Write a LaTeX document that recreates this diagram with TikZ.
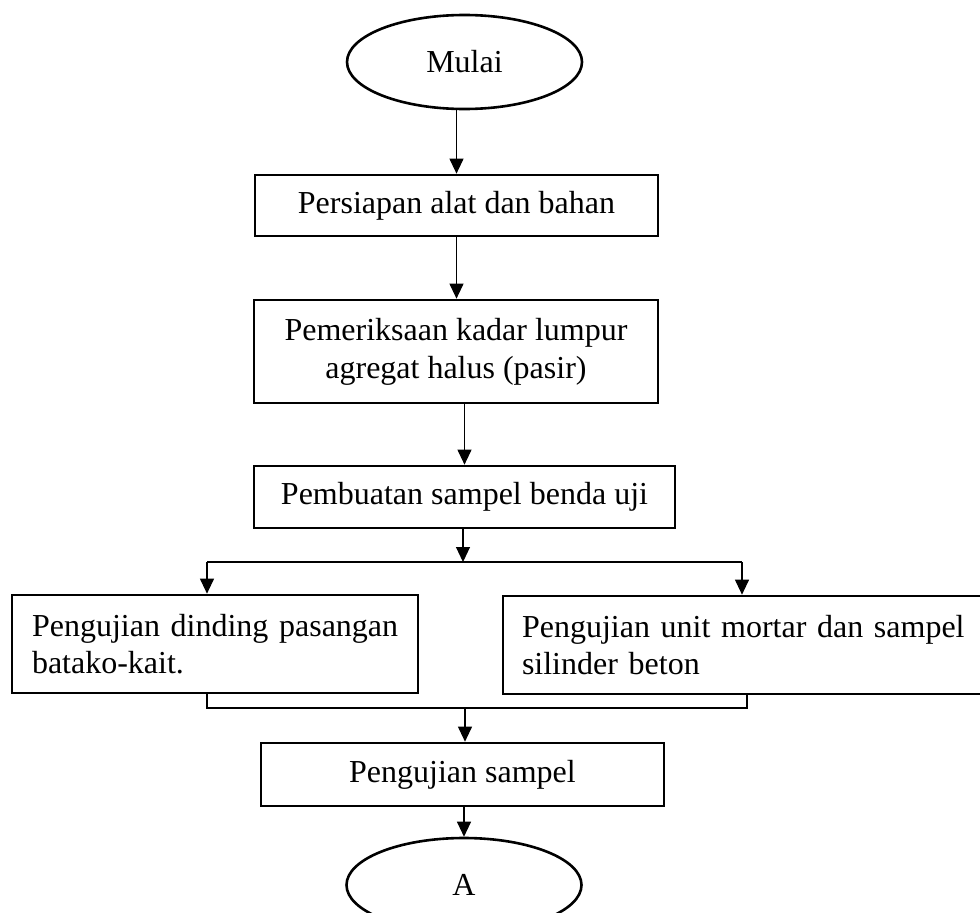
\documentclass[tikz,border=0pt]{standalone}
\usepackage{fontspec}
\setmainfont{Liberation Serif}
\usetikzlibrary{arrows.meta,shapes.geometric}
\begin{document}
\begin{tikzpicture}[x=1pt,y=-1pt,
  box/.style={draw,line width=2.7pt,inner sep=0pt,font=\fontsize{32}{38}\selectfont,align=center},
  oval/.style={draw,ellipse,line width=2.6pt,inner sep=0pt,minimum width=235pt,minimum height=94pt,font=\fontsize{32}{38}\selectfont},
  sidebox/.style={draw,line width=2.7pt,inner ysep=0pt,minimum height=98pt,align=left,font=\fontsize{32}{37}\selectfont},
  flow/.style={line width=1.1pt,-{Triangle[length=15pt,width=14pt]}},
  plain/.style={line width=1.1pt}]
\useasboundingbox (0,0) rectangle (980,913);
\node[oval] (mulai) at (464.5,62) {Mulai};
\node[box,minimum width=403pt,minimum height=61pt] (b1) at (456.5,205.5) {Persiapan alat dan bahan};
\node[box,minimum width=404pt,minimum height=103pt] (b2) at (456,351.5) {Pemeriksaan kadar lumpur\\agregat halus (pasir)};
\node[box,minimum width=421pt,minimum height=62pt] (b3) at (464.5,497) {Pembuatan sampel benda uji};
\node[sidebox,inner xsep=20pt,text width=366pt] (bl) at (215,644) {\mbox{Pengujian dinding pasangan}\\\mbox{batako-kait.}};
\node[sidebox,inner xsep=19pt,text width=445pt] (br) at (744.5,645) {\makebox[445pt][s]{Pengujian unit mortar dan sampel}\\\mbox{silinder beton}};
\node[box,minimum width=403pt,minimum height=63pt] (b4) at (462.5,774.5) {Pengujian sampel};
\node[oval] (akhir) at (464,885) {A};
% connectors
\draw[flow] (mulai.south -| b1.north) -- (b1.north);
\draw[flow] (b1.south) -- (b1.south |- b2.north);
\draw[flow] (b2.south -| b3.north) -- (b3.north);
\coordinate (sp) at (463,562);
\coordinate (spl) at (207,562);
\coordinate (spr) at (742,562);
\draw[flow] (b3.south -| sp) -- (sp);
\draw[plain] (spl) -- (spr);
\draw[flow] (spl) -- (spl |- bl.north);
\draw[flow] (spr) -- (spr |- br.north);
\coordinate (jn) at (465,708);
\coordinate (jl) at (207,708);
\coordinate (jr) at (747,708);
\draw[plain] (jl |- bl.south) -- (jl) -- (jr) -- (jr |- br.south);
\draw[flow] (jn) -- (jn |- b4.north);
\draw[flow] (b4.south -| akhir.north) -- (akhir.north);
\end{tikzpicture}
\end{document}
